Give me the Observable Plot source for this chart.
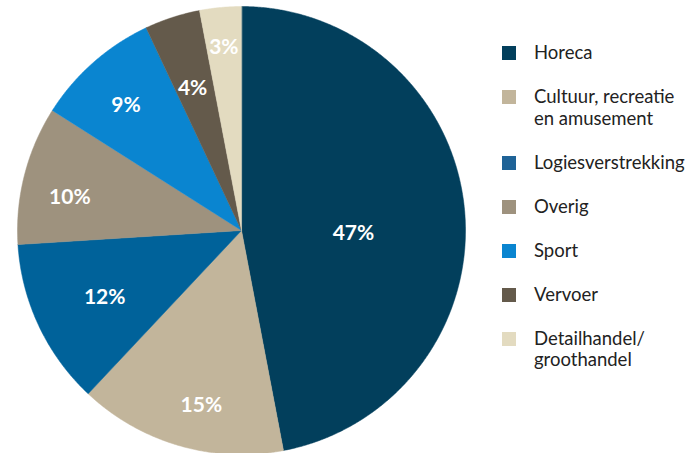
<!DOCTYPE html>
<html>
<head>
<meta charset="utf-8">
<script src="https://cdn.jsdelivr.net/npm/d3@7"></script>
<script src="https://cdn.jsdelivr.net/npm/@observablehq/plot@0.6"></script>
<style>
  body { margin: 0; background: #fff; font-family: Lato, "Noto Sans", sans-serif; }
  #wrap { position: relative; width: 698px; height: 453px; overflow: hidden; }
  #chart { position: absolute; left: 0; top: 0; }
  #legend { position: absolute; left: 502px; top: 42px; color: #222; font-size: 18.5px; line-height: 21.5px; }
  .item { display: flex; align-items: flex-start; margin-bottom: 22.5px; }
  .sw { width: 14px; height: 14px; margin-top: 4px; margin-right: 18px; flex: none; }
</style>
</head>
<body>
<div id="wrap"><div id="chart"></div><div id="legend"></div></div>
<script>
const categories = ["Horeca", "Cultuur, recreatie\nen amusement", "Logiesverstrekking", "Overig", "Sport", "Vervoer", "Detailhandel/\ngroothandel"];
const shares = [47, 15, 12, 10, 9, 4, 3];
const colors = ["#023F5C", "#C2B59B", "#00629A", "#9E927E", "#0A85D0", "#645A4B", "#E3DBC0"];
const legendColors = ["#023F5C", "#C2B59B", "#1F6397", "#9E927E", "#0A85D0", "#645A4B", "#E3DBC0"];
// label placement inside each slice: radius fraction and angular fraction
const labelRadius = [0.5, 0.8, 0.68, 0.78, 0.76, 0.67, 0.82];
const labelAngle = [0.54, 0.44, 0.48, 0.40, 0.46, 0.43, 0.49];

const arcs = d3.pie().sort(null).value(d => d)(shares);
const pt = a => [Math.sin(a), -Math.cos(a)];
const slices = arcs.map((a, i) => {
  const ring = [[0, 0]];
  const n = Math.max(2, Math.ceil((a.endAngle - a.startAngle) / 0.005));
  for (let k = 0; k <= n; k++) ring.push(pt(a.startAngle + (a.endAngle - a.startAngle) * k / n));
  ring.push([0, 0]);
  const la = a.startAngle + (a.endAngle - a.startAngle) * labelAngle[i];
  const [lx, ly] = pt(la);
  return {
    type: "Feature",
    properties: {name: categories[i], share: shares[i], color: colors[i],
      lx: lx * labelRadius[i], ly: ly * labelRadius[i]},
    geometry: {type: "Polygon", coordinates: [ring]}
  };
});

const chart = Plot.plot({
  width: 480,
  height: 453,
  margin: 0,
  projection: () => d3.geoIdentity().scale(224).translate([241, 230]),
  marks: [
    Plot.geo(slices, {fill: d => d.properties.color, stroke: d => d.properties.color, strokeWidth: 0.5}),
    Plot.text(slices, {
      x: d => d.properties.lx, y: d => d.properties.ly,
      text: d => d.properties.share + "%",
      fill: "white", fontSize: 21, fontWeight: "bold", fontFamily: "Lato, sans-serif"
    })
  ]
});
document.getElementById("chart").appendChild(chart);

const legend = document.getElementById("legend");
categories.forEach((c, i) => {
  const item = document.createElement("div");
  item.className = "item";
  const sw = document.createElement("div");
  sw.className = "sw";
  sw.style.background = legendColors[i];
  const t = document.createElement("div");
  t.innerHTML = c.replace("\n", "<br>");
  item.appendChild(sw); item.appendChild(t);
  legend.appendChild(item);
});
</script>
</body>
</html>
